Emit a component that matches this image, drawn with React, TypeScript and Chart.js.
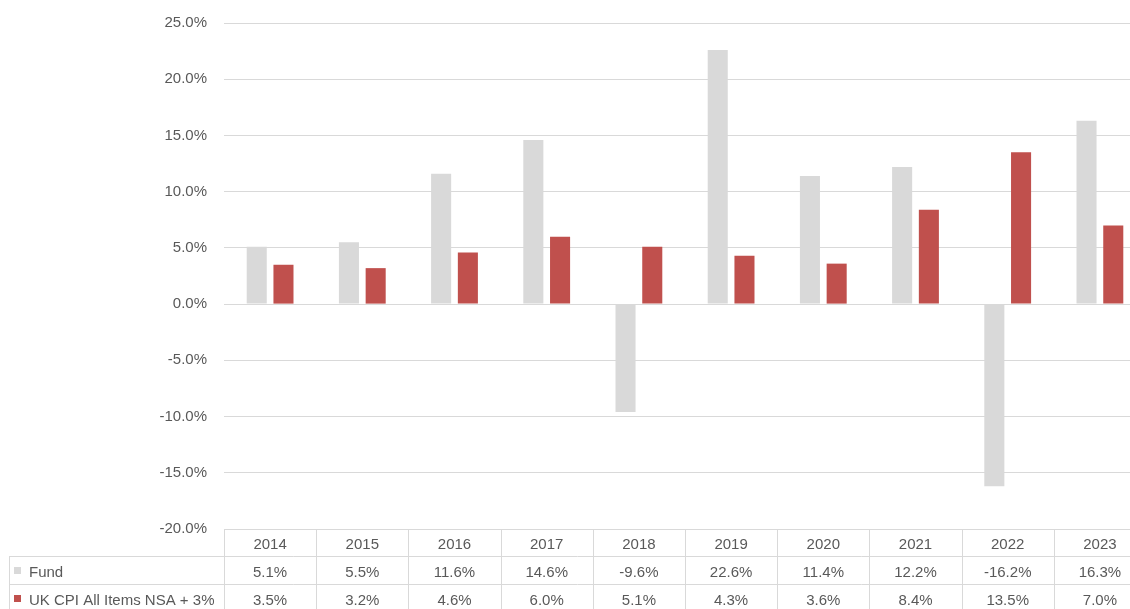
import React, { useEffect, useRef } from 'react';
import { Chart, registerables } from 'chart.js';

Chart.register(...registerables);

const years = ['2014', '2015', '2016', '2017', '2018', '2019', '2020', '2021', '2022', '2023'];
const fundReturns = [5.1, 5.5, 11.6, 14.6, -9.6, 22.6, 11.4, 12.2, -16.2, 16.3];
const cpiReturns = [3.5, 3.2, 4.6, 6.0, 5.1, 4.3, 3.6, 8.4, 13.5, 7.0];
const seriesNames = ['Fund', 'UK CPI All Items NSA + 3%'];
const seriesColors = ['#d9d9d9', '#c0504d'];
const yMin = -20;
const yMax = 25;
const yStep = 5;

const FONT_FAMILY = '"Liberation Sans", Arial, sans-serif';
const TEXT_COLOR = '#595959';
const LINE_COLOR = '#d9d9d9';

const fmt = (v: number) => v.toFixed(1) + '%';

const tablePlugin = {
  id: 'dataTable',
  afterDraw(chart: any) {
    const { ctx, chartArea, scales } = chart;
    const xs = scales.x;
    const n = years.length;
    const cw = (xs.right - xs.left) / n;
    const top = Math.round(chartArea.bottom);
    const r1 = top + 27;
    const r2 = r1 + 28;
    const r3 = r2 + 28;
    const tableLeft = 9;
    const right = xs.right;
    const snap = (v: number) => Math.round(v) + 0.5;

    ctx.save();
    ctx.strokeStyle = LINE_COLOR;
    ctx.lineWidth = 1;
    ctx.beginPath();
    ctx.moveTo(snap(xs.left), snap(top));
    ctx.lineTo(right, snap(top));
    ctx.moveTo(tableLeft, snap(r1));
    ctx.lineTo(right, snap(r1));
    ctx.moveTo(tableLeft, snap(r2));
    ctx.lineTo(right, snap(r2));
    ctx.moveTo(tableLeft, snap(r3));
    ctx.lineTo(right, snap(r3));
    ctx.moveTo(snap(tableLeft), snap(r1));
    ctx.lineTo(snap(tableLeft), r3);
    for (let i = 0; i <= n; i++) {
      const xx = snap(xs.left + i * cw);
      ctx.moveTo(xx, snap(top));
      ctx.lineTo(xx, r3);
    }
    ctx.stroke();

    ctx.font = '15px ' + FONT_FAMILY;
    ctx.fillStyle = TEXT_COLOR;
    ctx.textBaseline = 'alphabetic';
    ctx.textAlign = 'center';
    const b0 = top + 20;
    const b1 = r1 + 21;
    const b2 = r2 + 21;
    for (let i = 0; i < n; i++) {
      const cx = xs.getPixelForValue(i);
      ctx.fillText(years[i], cx, b0);
      ctx.fillText(fmt(fundReturns[i]), cx, b1);
      ctx.fillText(fmt(cpiReturns[i]), cx, b2);
    }
    ctx.textAlign = 'left';
    ctx.fillText(seriesNames[0], 29, b1);
    ctx.fillText(seriesNames[1], 29, b2);
    ctx.fillStyle = seriesColors[0];
    ctx.fillRect(14, b1 - 10, 7, 7);
    ctx.fillStyle = seriesColors[1];
    ctx.fillRect(14, b2 - 10, 7, 7);
    ctx.restore();
  },
};

export default function App() {
  const ref = useRef<HTMLCanvasElement>(null);

  useEffect(() => {
    if (!ref.current) return;
    const chart = new Chart(ref.current, {
      type: 'bar',
      data: {
        labels: years,
        datasets: [
          {
            label: seriesNames[0],
            data: fundReturns,
            backgroundColor: seriesColors[0],
            borderWidth: 0,
            barPercentage: 0.75,
            categoryPercentage: 0.58,
          },
          {
            label: seriesNames[1],
            data: cpiReturns,
            backgroundColor: seriesColors[1],
            borderWidth: 0,
            barPercentage: 0.75,
            categoryPercentage: 0.58,
          },
        ],
      },
      options: {
        animation: false,
        responsive: true,
        maintainAspectRatio: false,
        layout: { padding: { left: 0, top: 23, right: 4, bottom: 80 } },
        plugins: {
          legend: { display: false },
          tooltip: { enabled: false },
        },
        scales: {
          x: { display: false },
          y: {
            min: yMin,
            max: yMax,
            afterFit: (scale: any) => {
              scale.width = 224;
              scale.paddingTop = 0;
              scale.paddingBottom = 0;
            },
            ticks: {
              stepSize: yStep,
              padding: 17,
              color: TEXT_COLOR,
              font: { family: FONT_FAMILY, size: 15 },
              callback: (v: any) => fmt(Number(v)),
            },
            grid: { color: LINE_COLOR, drawTicks: false, lineWidth: 1 },
            border: { display: false },
          },
        },
      },
      plugins: [tablePlugin],
    });
    return () => chart.destroy();
  }, []);

  return (
    <div style={{ position: 'fixed', left: 0, top: 0, width: 1130, height: 609, overflow: 'hidden', background: '#fff' }}>
      <div style={{ position: 'relative', width: 1150, height: 609 }}>
        <canvas ref={ref} />
      </div>
    </div>
  );
}
